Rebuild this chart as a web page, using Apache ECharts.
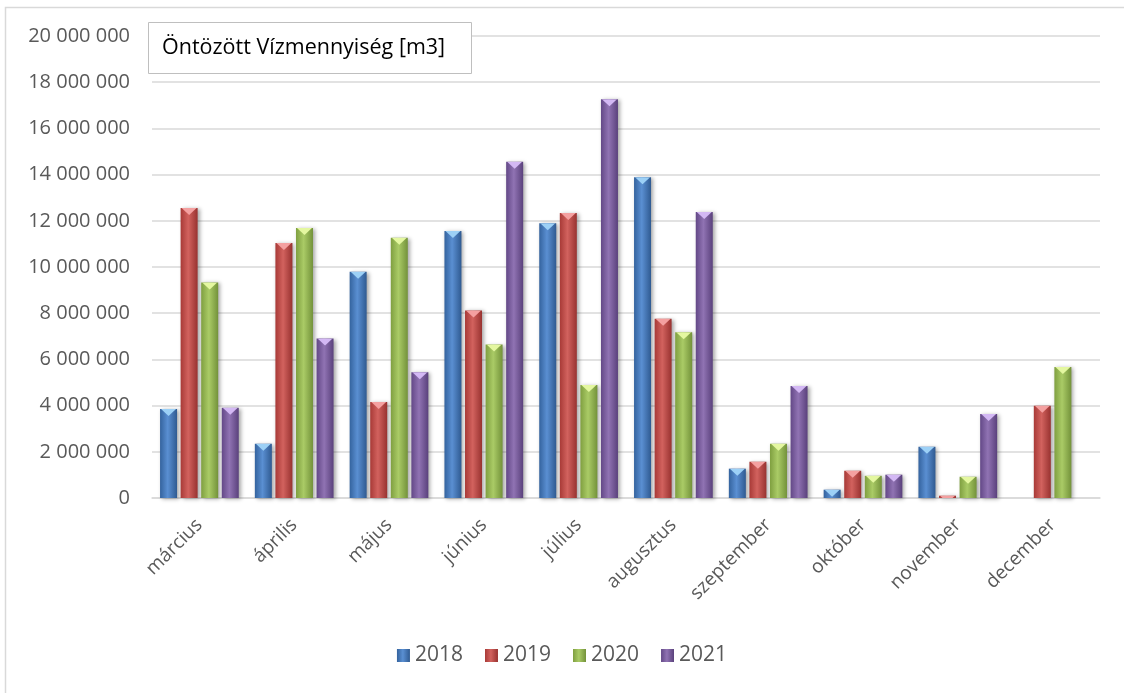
<!DOCTYPE html>
<html>
<head>
<meta charset="utf-8">
<script src="https://cdn.jsdelivr.net/npm/echarts@6/dist/echarts.min.js"></script>
<style>html,body{margin:0;padding:0;background:#fff;}#c{width:1124px;height:693px;}</style>
</head>
<body>
<div id="c"></div>
<script>
const categories = ['március','április','május','június','július','augusztus','szeptember','október','november','december'];
const years = ['2018','2019','2020','2021'];
const v2018 = [3850000, 2350000, 9790000, 11560000, 11890000, 13890000, 1270000, 360000, 2220000, null];
const v2019 = [12550000, 11040000, 4160000, 8120000, 12340000, 7760000, 1570000, 1180000, 100000, 3990000];
const v2020 = [9330000, 11690000, 11270000, 6640000, 4890000, 7170000, 2350000, 960000, 920000, 5670000];
const v2021 = [3910000, 6900000, 5440000, 14560000, 17260000, 12380000, 4850000, 1010000, 3640000, null];
const yTicks = [0, 2000000, 4000000, 6000000, 8000000, 10000000, 12000000, 14000000, 16000000, 18000000, 20000000];
const titleText = 'Öntözött Vízmennyiség [m3]';

const seriesValues = [v2018, v2019, v2020, v2021];
const palette = [
  {l:'#34639e', m:'#5a8fd2', r:'#2f5a91', cap:'#9cd0f6'},
  {l:'#a83a37', m:'#d2625e', r:'#983230', cap:'#f4a0a0'},
  {l:'#7f9f40', m:'#aacb66', r:'#73923a', cap:'#e4f7a0'},
  {l:'#634887', m:'#9073b3', r:'#5a417c', cap:'#d3b8f4'}
];
const FONT = '"Open Sans", "Noto Sans", sans-serif';
const BW = 17;

function grad(p){
  return new echarts.graphic.LinearGradient(0,0,1,0,[
    {offset:0, color:p.l},{offset:0.45, color:p.m},{offset:1, color:p.r}
  ]);
}

const series = [];
years.forEach((y,i)=>{
  series.push({
    name: y, type:'bar', data: seriesValues[i],
    barWidth: BW, barGap:'21%', barCategoryGap:'18%',
    itemStyle:{color: grad(palette[i]), shadowColor:'rgba(0,0,0,0.35)', shadowBlur:4, shadowOffsetX:2, shadowOffsetY:1},
    z: 2
  });
});
years.forEach((y,i)=>{
  series.push({
    name: y+' cap', type:'pictorialBar', data: seriesValues[i],
    barWidth: BW, barGap:'21%', barCategoryGap:'18%',
    symbol:'path://M0,0 L10,0 L5,4 Z', symbolSize:[BW-2, 7], symbolPosition:'end', symbolClip:true,
    itemStyle:{color: palette[i].cap},
    silent:true, z: 3
  });
});

const chart = echarts.init(document.getElementById('c'));
chart.setOption({
  animation:false,
  backgroundColor:'#fff',
  graphic:[
    {type:'rect', shape:{x:5.5,y:7.5,width:1300,height:900}, style:{fill:'none', stroke:'#d9d9d9', lineWidth:1.5}, z:-10},
    {type:'rect', shape:{x:148.5,y:22.5,width:323,height:51}, style:{fill:'#fff', stroke:'#bfbfbf', lineWidth:1}, z:100},
    {type:'text', x:162, y:48, style:{text:titleText, font:'21.5px '+FONT, fill:'#000', textVerticalAlign:'middle'}, z:101}
  ],
  grid:{left:152, right:24, top:36, bottom:195, containLabel:false},
  legend:{
    data: years, bottom: 22, left:'center',
    icon:'rect', itemWidth:13, itemHeight:13, itemGap:22,
    textStyle:{color:'#595959', fontSize:21, fontFamily:FONT}
  },
  xAxis:{
    type:'category', data:categories,
    axisLine:{show:true, lineStyle:{color:'#d9d9d9', width:1.5}},
    axisTick:{show:false},
    axisLabel:{rotate:45, color:'#595959', fontSize:19, fontFamily:FONT, margin:24, interval:0}
  },
  yAxis:{
    type:'value', min:yTicks[0], max:yTicks[yTicks.length-1], interval:yTicks[1]-yTicks[0],
    axisLine:{show:false}, axisTick:{show:false},
    splitLine:{lineStyle:{color:'#d9d9d9', width:1.5}},
    axisLabel:{color:'#595959', fontSize:20, fontFamily:FONT, margin:22,
      formatter: v => String(v).replace(/\B(?=(\d{3})+(?!\d))/g,' ')}
  },
  series: series
});
</script>
</body>
</html>
